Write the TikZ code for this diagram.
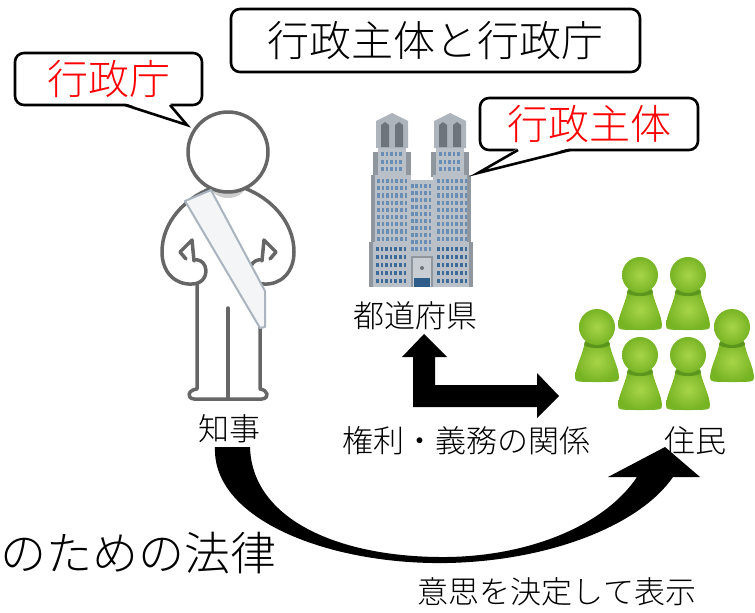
\documentclass[tikz,border=0pt]{standalone}
\usepackage{fontspec}
\setmainfont{Noto Sans CJK JP}[UprightFont={* Light}]
\definecolor{figline}{HTML}{666666}
\definecolor{sashline}{HTML}{A9B4BF}
\definecolor{sashfill}{HTML}{F3F5F7}
\definecolor{bldg}{HTML}{B9C0C8}
\definecolor{bldgdark}{HTML}{8F969E}
\definecolor{bldgcap}{HTML}{ADB4BC}
\definecolor{capdark}{HTML}{6E747B}
\definecolor{win}{HTML}{6A8DB4}
\definecolor{windark}{HTML}{3E6A98}
\definecolor{doorblue}{HTML}{2F5D8A}
\definecolor{pawnlight}{HTML}{A8D548}
\definecolor{pawnmid}{HTML}{77B424}
\definecolor{pawnneck}{HTML}{5B951E}

% grid of small windows: x0, y0, columns, rows, dx, dy, colour
\newcommand\winGrid[7]{%
  \foreach \i in {1,...,#3}{%
    \foreach \j in {1,...,#4}{%
      \fill[#7] ({#1+(\i-1)*#5},{#2+(\j-1)*#6}) rectangle ++(2.6,4.2);}}}

% one green pawn-shaped resident, head centre at (#1,#2)
\newcommand\pawnAt[3]{%
  \begin{scope}[shift={(#1,#2)}]
    \shade[inner color=pawnlight, outer color=pawnmid]
      (-12,14) .. controls (-14,28) and (-22,40) .. (-22,51)
      .. controls (-22,55) and (-18,55) .. (0,55)
      .. controls (18,55) and (22,55) .. (22,51)
      .. controls (22,40) and (14,28) .. (12,14) -- cycle;
    \fill[pawnneck] (0,17) ellipse (13 and 4);
    \shade[inner color=pawnlight, outer color=pawnmid] (0,0) circle (18);
    \coordinate (#3) at (0,0);
  \end{scope}}

\begin{document}
\begin{tikzpicture}[x=1pt,y=-1pt,
  bubble/.style={draw=black, line width=2.6pt, fill=white, rounded corners=9pt, inner sep=0pt},
  lbl/.style={font=\fontsize{31}{31}\selectfont, inner sep=0pt},
  biglbl/.style={font=\fontsize{46}{46}\selectfont, inner sep=0pt},
  redlbl/.style={text=red, font=\fontsize{41}{41}\selectfont},
  person/.style={draw=figline, line width=3.5pt, line cap=round, line join=round},
  tail/.style={draw=black, line width=2.6pt, line join=miter}]
\useasboundingbox (0,0) rectangle (755,613);

% ---------- title ----------
\node[bubble, minimum width=409pt, minimum height=63pt,
      font=\fontsize{42}{42}\selectfont] (title) at (435.5,40.5) {行政主体と行政庁};

% ---------- governor figure ----------
\draw[person] (212,188) .. controls (185,198) and (162,222) .. (162,252)
  .. controls (162,272) and (175,285) .. (192,284)
  .. controls (203,284) and (208,275) .. (205,266)
  .. controls (203,261) and (198,259) .. (194,260);
\draw[person] (194,261) -- (192,240) -- (180,252) -- (186,259);
\draw[person] (244,188) .. controls (271,198) and (294,222) .. (294,252)
  .. controls (294,272) and (281,285) .. (264,284)
  .. controls (253,284) and (248,275) .. (251,266)
  .. controls (253,261) and (258,259) .. (262,260);
\draw[person] (262,261) -- (264,240) -- (276,252) -- (270,259);
\draw[person] (197,284) -- (197,389) .. controls (188,390) and (186,398) .. (194,399) -- (228,399);
\draw[person] (228,308) -- (228,399);
\draw[person] (260,327) -- (260,389) .. controls (268,390) and (270,398) .. (262,399) -- (228,399);
\fill[black!20] (210,186) .. controls (214,202) and (242,202) .. (246,186) -- cycle;
\draw[person, fill=white] (228,152) circle (40);
\draw[draw=sashline, fill=sashfill, line width=2pt, line join=round]
  (185,201) -- (211,190) -- (265,291) -- (265,327) -- (260,328) -- cycle;
\coordinate (governor) at (228,250);

% ---------- prefectural office building ----------
\fill[bldg] (408,180) rectangle (436,287);
\winGrid{411}{184}{5}{10}{4.4}{7}{win}
\fill[bldgdark] (411,256) rectangle (433,287);
\fill[bldg!80] (413,258) rectangle (431,287);
\fill[capdark] (422,268) circle (2);
\fill[doorblue] (414,278) rectangle (430,287);
% left tower
\fill[bldgdark] (373,152) rectangle (411,177);
\fill[bldg] (378,148) rectangle (406,177);
\fill[bldgcap] (376,148) -- (376,121) -- (392,113) -- (408,121) -- (408,148) -- cycle;
\fill[capdark] (381,125) -- (385,122) -- (389,125) -- (389,147) -- (381,147) -- cycle;
\fill[capdark] (395,125) -- (399,122) -- (403,125) -- (403,147) -- (395,147) -- cycle;
\winGrid{381}{152}{5}{3}{4.6}{7.5}{win}
\fill[bldg] (371,175) rectangle (411,243);
\fill[bldgdark] (371,175) rectangle (375,243);
\winGrid{377}{179}{7}{9}{4.6}{7.2}{win}
\fill[bldg] (369,242) rectangle (411,287);
\fill[bldgdark] (369,242) rectangle (373,287);
\winGrid{376}{247}{7}{5}{4.6}{8}{windark}
% right tower
\fill[bldgdark] (431,152) rectangle (469,177);
\fill[bldg] (436,148) rectangle (464,177);
\fill[bldgcap] (434,148) -- (434,121) -- (450,113) -- (466,121) -- (466,148) -- cycle;
\fill[capdark] (439,125) -- (443,122) -- (447,125) -- (447,147) -- (439,147) -- cycle;
\fill[capdark] (453,125) -- (457,122) -- (461,125) -- (461,147) -- (453,147) -- cycle;
\winGrid{439}{152}{5}{3}{4.6}{7.5}{win}
\fill[bldg] (433,175) rectangle (471,243);
\fill[bldgdark] (467,175) rectangle (471,243);
\winGrid{437}{179}{7}{9}{4.6}{7.2}{win}
\fill[bldg] (433,242) rectangle (473,287);
\fill[bldgdark] (469,242) rectangle (473,287);
\winGrid{437}{247}{7}{5}{4.6}{8}{windark}
\coordinate (office) at (421,200);

% ---------- residents ----------
\pawnAt{640}{275}{r1}
\pawnAt{688}{275}{r2}
\pawnAt{597}{327}{r3}
\pawnAt{732}{327}{r4}
\pawnAt{640}{355}{r5}
\pawnAt{688}{355}{r6}

% ---------- speech bubbles ----------
\node[bubble, redlbl, minimum width=187pt, minimum height=52pt] (cho) at (108.5,79) {行政庁};
\fill[white] (125,103) -- (170,103) -- (187,125) -- cycle;
\draw[tail] (125,105) -- (187,125) -- (170,105);

\node[bubble, redlbl, minimum width=218pt, minimum height=52pt] (shutai) at (589,124) {行政主体};
\fill[white] (518,148) -- (570,148) -- (478,173) -- cycle;
\draw[tail] (518,150) -- (478,173) -- (570,150);

% ---------- labels ----------
\node[lbl] (chiji) at (229,429) {知事};
\node[lbl] (todofuken) at (415,316) {都道府県};
\node[lbl] (kankei) at (466,441) {権利・義務の関係};
\node[lbl] (jumin) at (695,441) {住民};
\node[biglbl, anchor=east] (horitsu) at (277,553) {のための法律};
\node[lbl] (ishi) at (557,592) {意思を決定して表示};

% ---------- rights / duties block arrow ----------
\fill (413,407) -- (413,357) -- (402,357) -- (424,334) -- (447,357) -- (435,357)
  -- (435,385) -- (537,385) -- (537,373) -- (559,396) -- (537,418) -- (537,407) -- cycle;

% ---------- curved arrow: governor declares intent to residents ----------
\fill (215,447) .. controls (212,520) and (330,565) .. (447,563)
  .. controls (550,561) and (640,525) .. (673,477)
  -- (700,477) -- (665,447) -- (608,477) -- (637,477)
  .. controls (605,525) and (530,556) .. (447,557)
  .. controls (340,558) and (252,520) .. (250,447) -- cycle;
\end{tikzpicture}
\end{document}
